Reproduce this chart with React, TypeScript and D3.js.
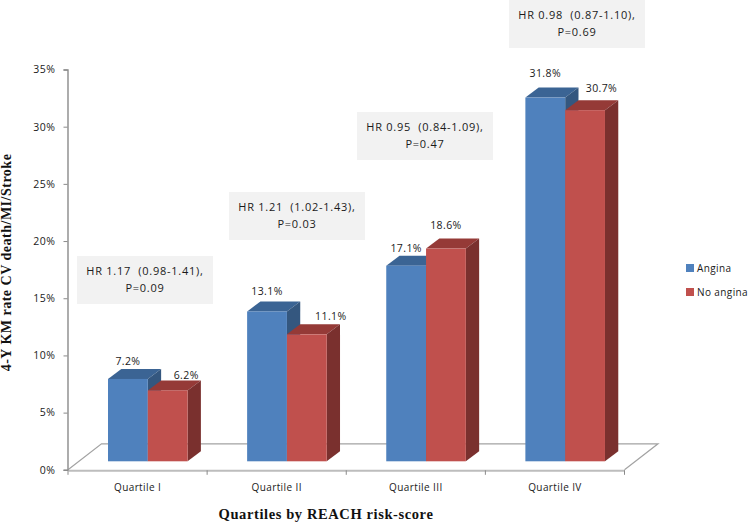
import React, { useEffect, useRef } from 'react';
import * as d3 from 'd3';

const quartiles = ['Quartile I', 'Quartile II', 'Quartile III', 'Quartile IV'];
const angina = [7.2, 13.1, 17.1, 31.8];
const noAngina = [6.2, 11.1, 18.6, 30.7];
const hazardRatios = ['HR 1.17  (0.98-1.41),', 'HR 1.21  (1.02-1.43),', 'HR 0.95  (0.84-1.09),', 'HR 0.98  (0.87-1.10),'];
const pValues = ['P=0.09', 'P=0.03', 'P=0.47', 'P=0.69'];
const yTicks = [0, 5, 10, 15, 20, 25, 30, 35];

// labels were moved by hand in the original, so they each have a nudge
const anginaNudge = [[0, -14], [0, -16.4], [0, -14], [0, -20.5]];
const noAnginaNudge = [[18.5, -11.4], [24, -14.3], [0, -19.5], [16.4, -18]];
// boxes sit at their own place above each group
const boxLeft = [77, 229, 357, 509];
const boxTop = [256, 192, 112, 0];

const W = 750;
const H = 524;
const FONT = '"Open Sans", sans-serif';
const SERIF = '"Liberation Serif", serif';
const INK = '#1a1a1a';

const App = () => {
  const svgRef = useRef<SVGSVGElement>(null);

  useEffect(() => {
    const svg = d3.select(svgRef.current);
    svg.selectAll('*').remove();

    const x = d3.scaleBand().domain(quartiles).range([68, 624.5]);
    const y = d3.scaleLinear().domain([0, 35]).range([469.8, 69.5]);

    const depthX = 13.3;
    const depthY = 10;
    const barW = 39.8;
    const barStart = 40;
    const lift = 8.5; // bars stand on the floor, above the axis line

    // floor
    const floorDX = 33.5;
    const floorDY = 26;
    const [x0, x1] = x.range();
    const y0 = y(0);
    svg.append('path')
      .attr('d', `M${x0},${y0}L${x0 + floorDX},${y0 - floorDY}L${x1 + floorDX},${y0 - floorDY}L${x1},${y0}`)
      .attr('fill', 'none')
      .attr('stroke', '#a3a3a3')
      .attr('stroke-width', 1.2);

    // axes
    const yAxis = d3.axisLeft(y).tickValues(yTicks).tickSize(4).tickPadding(8).tickFormat(d => `${d}%`);
    const gy = svg.append('g').attr('transform', `translate(${x0 - 0.5},0)`).call(yAxis);
    gy.select('.domain').attr('stroke', '#8a8a8a').attr('stroke-width', 1.4);
    gy.selectAll('.tick line').attr('stroke', '#8a8a8a');
    gy.selectAll('.tick text')
      .attr('font-family', FONT)
      .attr('font-size', 10.5)
      .attr('letter-spacing', 0.5)
      .attr('fill', INK);

    const xAxis = d3.axisBottom(x).tickSize(0).tickPadding(13.5);
    const gx = svg.append('g').attr('transform', `translate(0,${y0 + 0.5})`).call(xAxis);
    gx.select('.domain').attr('stroke', '#bdbdbd').attr('stroke-width', 2);
    gx.selectAll('.tick text')
      .attr('font-family', FONT)
      .attr('font-size', 10)
      .attr('letter-spacing', 0.4)
      .attr('fill', INK);
    const edges = [...quartiles.map(q => x(q)), x1];
    gx.selectAll('line.edge')
      .data(edges)
      .enter()
      .append('line')
      .attr('class', 'edge')
      .attr('x1', d => d)
      .attr('x2', d => d)
      .attr('y1', 0)
      .attr('y2', 4.5)
      .attr('stroke', '#8a8a8a');

    // 3d bars
    const drawBar = (left: number, value: number, front: string, top: string, side: string) => {
      const by = y0 - lift;
      const ty = y(value) - lift;
      const g = svg.append('g');
      g.append('path')
        .attr('d', `M${left},${ty}l${depthX},${-depthY}h${barW}l${-depthX},${depthY}Z`)
        .attr('fill', top);
      g.append('path')
        .attr('d', `M${left + barW},${ty}l${depthX},${-depthY}V${by - depthY}l${-depthX},${depthY}Z`)
        .attr('fill', side);
      g.append('rect')
        .attr('x', left)
        .attr('y', ty)
        .attr('width', barW)
        .attr('height', by - ty)
        .attr('fill', front);
    };

    quartiles.forEach((q, i) => {
      const left = x(q) + barStart;
      drawBar(left, angina[i], '#4f81bd', '#3b6494', '#34577f');
      drawBar(left + barW, noAngina[i], '#c0504d', '#953a37', '#7a302e');
    });

    // value labels
    const valueLabel = (cx: number, by: number, text: string) => {
      svg.append('text')
        .attr('x', cx)
        .attr('y', by)
        .attr('text-anchor', 'middle')
        .attr('font-family', FONT)
        .attr('font-size', 10.5)
        .attr('letter-spacing', 0.4)
        .attr('fill', INK)
        .text(text);
    };
    quartiles.forEach((q, i) => {
      const left = x(q) + barStart;
      valueLabel(left + barW / 2 + anginaNudge[i][0], y(angina[i]) - lift + anginaNudge[i][1], `${angina[i].toFixed(1)}%`);
      valueLabel(left + barW * 1.5 + noAnginaNudge[i][0], y(noAngina[i]) - lift + noAnginaNudge[i][1], `${noAngina[i].toFixed(1)}%`);
    });

    // HR boxes
    const boxes = svg.selectAll('g.hr').data(quartiles).enter().append('g').attr('class', 'hr')
      .attr('transform', (d, i) => `translate(${boxLeft[i]},${boxTop[i]})`);
    boxes.append('rect').attr('width', 136).attr('height', 48).attr('fill', '#f2f2f2');
    const boxText = boxes.append('text')
      .attr('text-anchor', 'middle')
      .attr('font-family', FONT)
      .attr('font-size', 11)
      .attr('letter-spacing', 0.75)
      .attr('fill', INK);
    boxText.append('tspan').attr('x', 68).attr('y', 19).style('white-space', 'pre').text((d, i) => hazardRatios[i]);
    boxText.append('tspan').attr('x', 68).attr('y', 36).text((d, i) => pValues[i]);

    // legend
    const legendItems = [['Angina', '#4f81bd'], ['No angina', '#c0504d']];
    const legend = svg.selectAll('g.lg').data(legendItems).enter().append('g').attr('class', 'lg')
      .attr('transform', (d, i) => `translate(686,${264 + i * 24})`);
    legend.append('rect').attr('width', 8).attr('height', 8).attr('fill', d => d[1]);
    legend.append('text')
      .attr('x', 11)
      .attr('y', 8)
      .attr('font-family', FONT)
      .attr('font-size', 10)
      .attr('letter-spacing', 0.4)
      .attr('fill', INK)
      .text(d => d[0]);

    // axis titles
    svg.append('text')
      .attr('transform', 'translate(11,262.5) rotate(-90)')
      .attr('text-anchor', 'middle')
      .attr('font-family', SERIF)
      .attr('font-weight', 'bold')
      .attr('font-size', 14)
      .attr('letter-spacing', 0.5)
      .attr('fill', '#111')
      .text('4-Y KM rate CV death/MI/Stroke');
    svg.append('text')
      .attr('x', 326)
      .attr('y', 519)
      .attr('text-anchor', 'middle')
      .attr('font-family', SERIF)
      .attr('font-weight', 'bold')
      .attr('font-size', 14.5)
      .attr('letter-spacing', 0.6)
      .attr('fill', '#111')
      .text('Quartiles by REACH risk-score');
  }, []);

  return (
    <svg
      ref={svgRef}
      width={W}
      height={H}
      style={{ position: 'absolute', left: 0, top: 0, background: '#fff' }}
    />
  );
};

export default App;
